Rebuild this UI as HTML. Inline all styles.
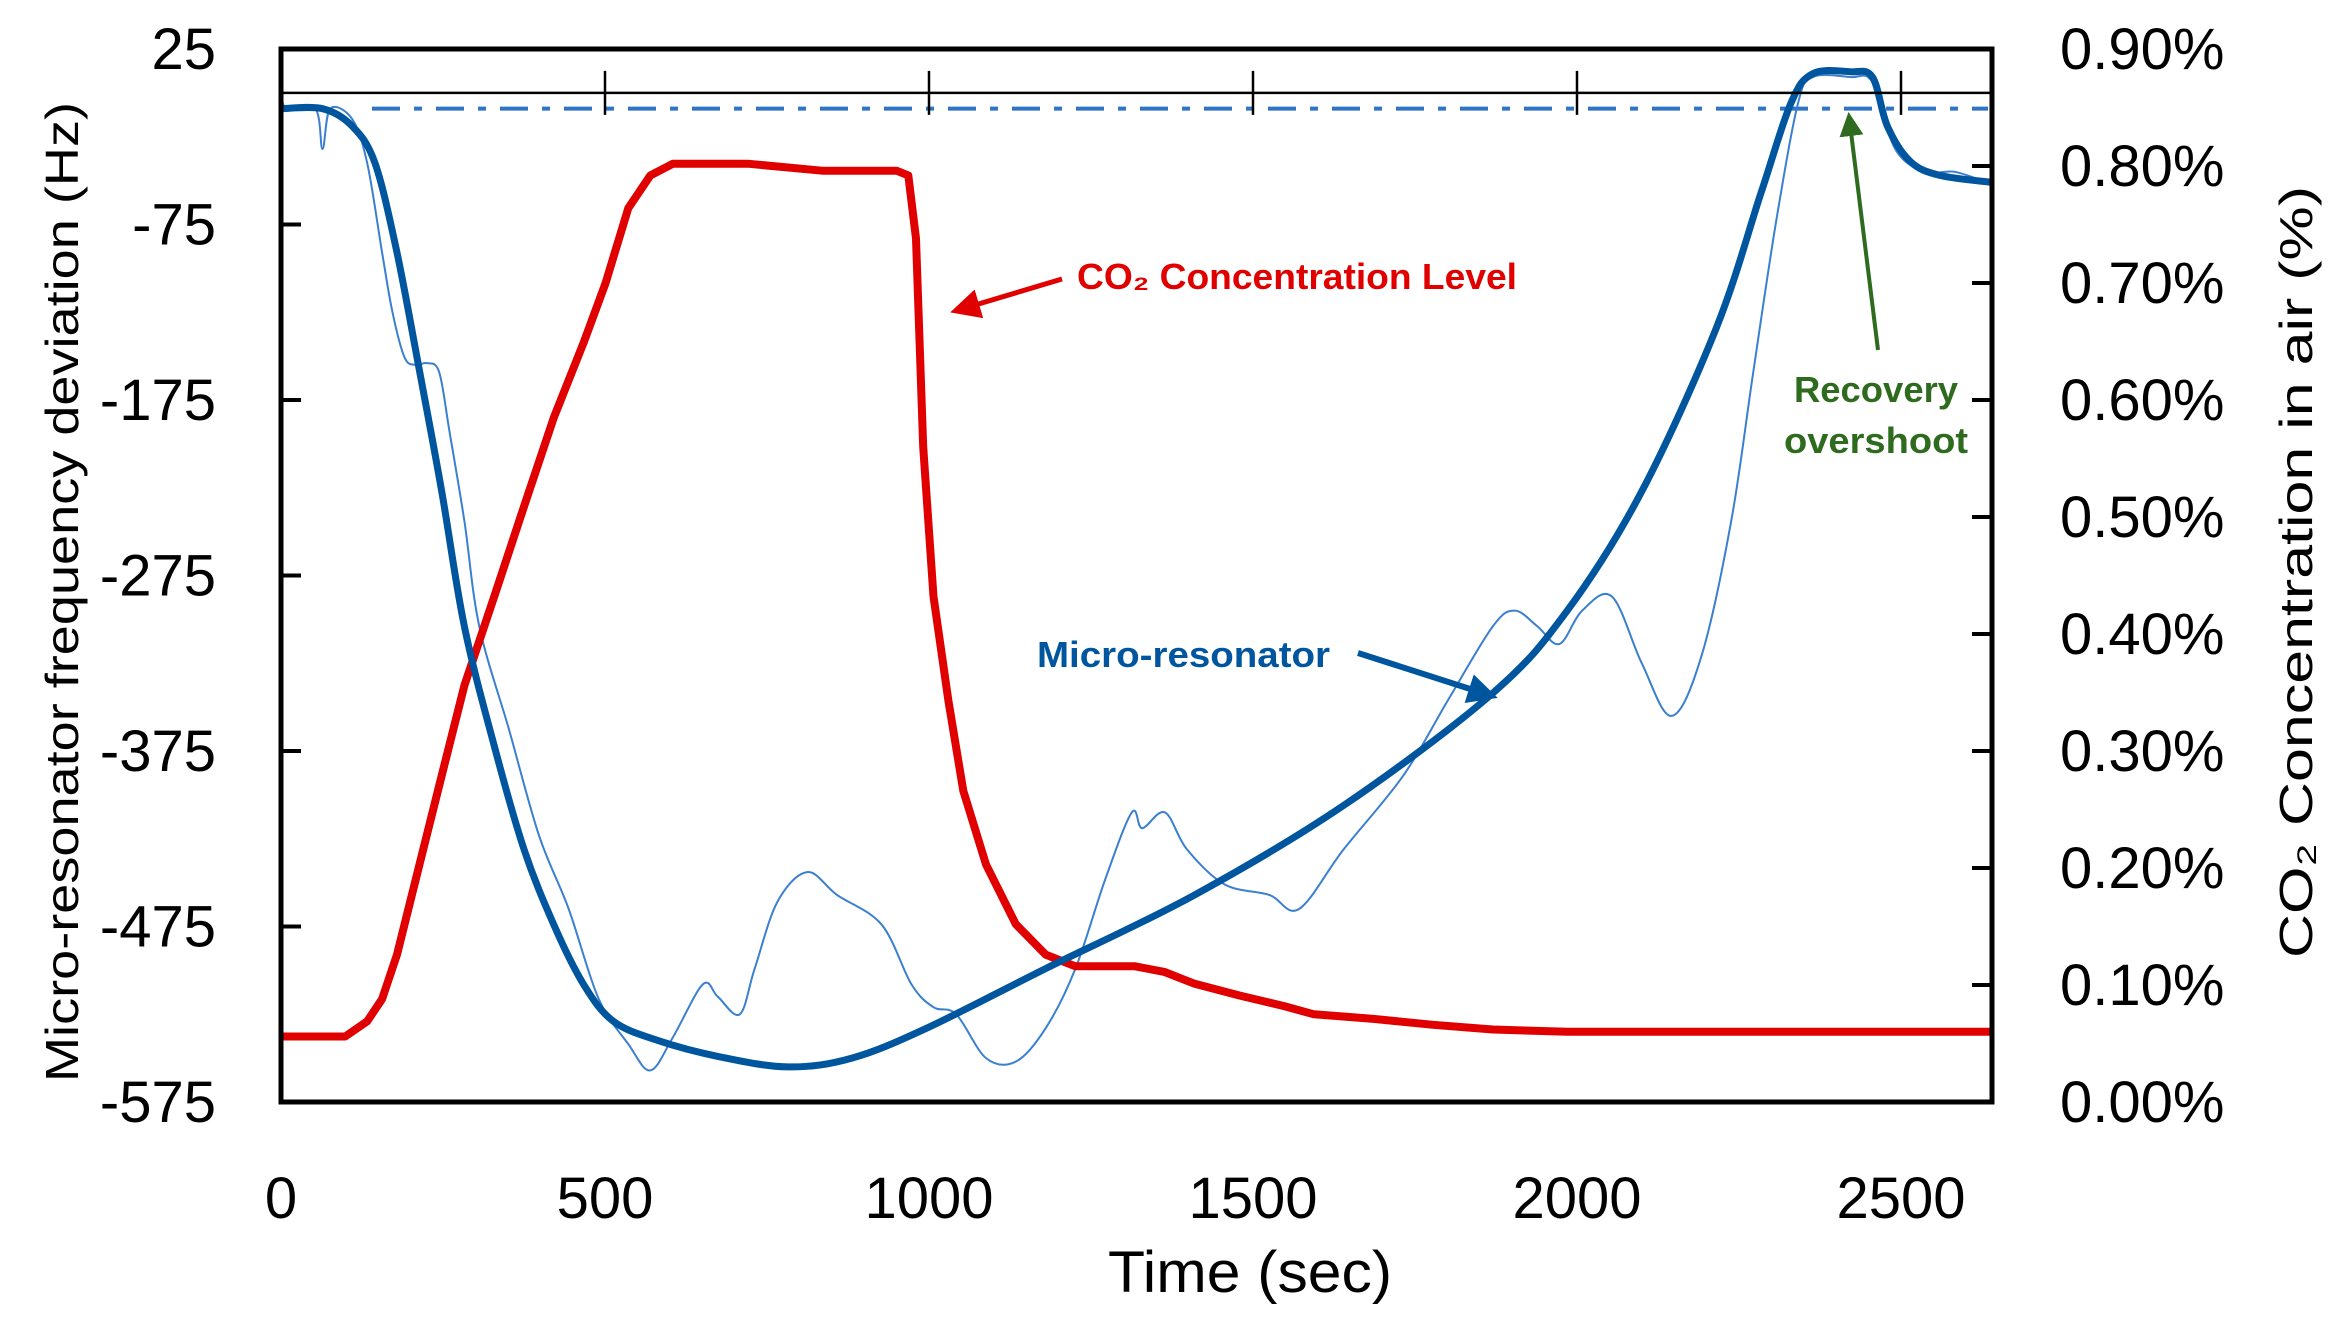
<!DOCTYPE html>
<html><head><meta charset="utf-8"><style>
html,body{margin:0;padding:0;background:#fff;}
svg{display:block;font-family:"Liberation Sans",sans-serif;}
</style></head><body>
<svg id="chart" width="2338" height="1322" viewBox="0 0 2338 1322" xmlns="http://www.w3.org/2000/svg">
<defs>
<clipPath id="clip"><rect x="281" y="49" width="1711" height="1053"/></clipPath>
<marker id="arR" markerWidth="6" markerHeight="6" refX="5" refY="3" orient="auto" markerUnits="strokeWidth"><path d="M0,0 L6,3 L0,6 z" fill="#e00000"/></marker>
<marker id="arB" markerWidth="5" markerHeight="5" refX="4" refY="2.5" orient="auto" markerUnits="strokeWidth"><path d="M0,0 L5,2.5 L0,5 z" fill="#00569e"/></marker>
<marker id="arG" markerWidth="6" markerHeight="6" refX="5" refY="3" orient="auto" markerUnits="strokeWidth"><path d="M0,0 L6,3 L0,6 z" fill="#2e6b1f"/></marker>
</defs>
<g id="plot" clip-path="url(#clip)"></g>
<g id="axes"></g>
<text x="0" y="0" transform="translate(78,592) rotate(-90)" text-anchor="middle" font-size="46" textLength="980" lengthAdjust="spacingAndGlyphs">Micro-resonator frequency deviation (Hz)</text>
<text x="0" y="0" transform="translate(2312,572) rotate(-90)" text-anchor="middle" font-size="46" textLength="772" lengthAdjust="spacingAndGlyphs">CO₂ Concentration in air (%)</text>
<text x="1250" y="1292" text-anchor="middle" font-size="58" textLength="284" lengthAdjust="spacingAndGlyphs">Time (sec)</text>
<text x="1077" y="289" font-size="36" font-weight="bold" fill="#e00000" textLength="440" lengthAdjust="spacingAndGlyphs">CO₂ Concentration Level</text>
<line x1="1062" y1="279" x2="955" y2="311" stroke="#e00000" stroke-width="5" marker-end="url(#arR)"/>
<text x="1037" y="667" font-size="36" font-weight="bold" fill="#00569e" textLength="293" lengthAdjust="spacingAndGlyphs">Micro-resonator</text>
<line x1="1358" y1="653" x2="1492" y2="696" stroke="#00569e" stroke-width="6" marker-end="url(#arB)"/>
<text x="1876" y="402" text-anchor="middle" font-size="36" font-weight="bold" fill="#2e6b1f" textLength="164" lengthAdjust="spacingAndGlyphs">Recovery</text>
<text x="1876" y="453" text-anchor="middle" font-size="36" font-weight="bold" fill="#2e6b1f" textLength="184" lengthAdjust="spacingAndGlyphs">overshoot</text>
<line x1="1878" y1="350" x2="1849" y2="116" stroke="#2e6b1f" stroke-width="4" marker-end="url(#arG)"/>
</svg>
<script>
const smoothT=[0,64,110,145,179,214,248,283,329,375,421,467,513,582,674,782,881,996,1180,1410,1640,1870,1985,2100,2215,2284,2330,2364,2422,2456,2479,2514,2560,2640];
const smoothHz=[-9,-9,-19,-40,-91,-159,-227,-304,-372,-431,-474,-508,-529,-540,-549,-555,-550,-533,-499,-457,-406,-342,-295,-227,-134,-57,-6,11,12,9,-19,-39,-47,-51];
const rawT=[0,7,53,64,76,110,133,156,172,191,209,225,244,260,283,306,352,398,444,490,536,570,605,651,674,708,731,766,812,858,927,973,1007,1042,1088,1134,1180,1226,1272,1313,1329,1364,1398,1456,1525,1571,1640,1732,1801,1870,1904,1939,1973,2008,2054,2100,2146,2192,2238,2272,2307,2341,2364,2422,2456,2491,2537,2583,2640];
const rawHz=[11,-9,-9,-32,-9,-15,-40,-91,-125,-151,-155,-154,-159,-193,-244,-304,-363,-423,-465,-516,-542,-557,-538,-508,-515,-525,-499,-461,-444,-457,-474,-508,-521,-525,-550,-552,-533,-499,-448,-410,-419,-410,-431,-451,-457,-465,-431,-389,-346,-304,-295,-304,-314,-295,-287,-325,-355,-321,-244,-159,-74,-6,9,9,6,-32,-45,-45,-52];
const co2T=[0,99,133,156,179,202,225,248,283,329,375,421,467,501,536,570,605,720,835,950,968,980,991,1007,1030,1053,1088,1134,1180,1226,1318,1364,1410,1479,1548,1594,1686,1778,1870,1985,2660];
const co2Pct=[0.056,0.056,0.069,0.088,0.126,0.177,0.228,0.279,0.356,0.432,0.509,0.585,0.649,0.700,0.764,0.792,0.802,0.802,0.796,0.796,0.792,0.738,0.560,0.432,0.343,0.266,0.203,0.152,0.126,0.116,0.116,0.111,0.101,0.091,0.082,0.075,0.071,0.066,0.062,0.060,0.060];
const xTicks=[0,500,1000,1500,2000,2500];
const yTicks=[25,-75,-175,-275,-375,-475,-575];
const y2Ticks=[0,0.1,0.2,0.3,0.4,0.5,0.6,0.7,0.8,0.9];
const refLineHz=-9;

const L=281,R=1992,T=49,B=1102;
const X=t=>L+t*(1911-10-281)/2500;
const Y=h=>T+(25-h)*(B-T)/600;
const Y2=p=>B-p*(B-T)/0.9;
const NS='http://www.w3.org/2000/svg';
const plot=document.getElementById('plot'),axes=document.getElementById('axes');
function mk(tag,parent,attrs){const e=document.createElementNS(NS,tag);for(const k in attrs)e.setAttribute(k,attrs[k]);parent.appendChild(e);return e;}
function pts(xs,ys,fy){return xs.map((t,i)=>X(t).toFixed(1)+','+fy(ys[i]).toFixed(1)).join(' ');}
function spline(xs,ys,fy){
 const p=xs.map((t,i)=>[X(t),fy(ys[i])]);
 let d='M'+p[0][0].toFixed(1)+','+p[0][1].toFixed(1);
 for(let i=0;i<p.length-1;i++){
  const p0=p[Math.max(0,i-1)],p1=p[i],p2=p[i+1],p3=p[Math.min(p.length-1,i+2)];
  const c1=[p1[0]+(p2[0]-p0[0])/6,p1[1]+(p2[1]-p0[1])/6];
  const c2=[p2[0]-(p3[0]-p1[0])/6,p2[1]-(p3[1]-p1[1])/6];
  d+=' C'+c1[0].toFixed(1)+','+c1[1].toFixed(1)+' '+c2[0].toFixed(1)+','+c2[1].toFixed(1)+' '+p2[0].toFixed(1)+','+p2[1].toFixed(1);
 }
 return d;
}

let zl=mk('line',axes,{x1:L,x2:R,y1:Y(0),y2:Y(0),stroke:'#000','stroke-width':2.5});


xTicks.forEach(t=>{if(t===0)return;
 const tk=mk('line',axes,{x1:X(t),x2:X(t),y1:Y(0)-22,y2:Y(0)+22,stroke:'#000','stroke-width':2.5});
 
 
});
xTicks.forEach(t=>{
 const tx=mk('text',axes,{x:X(t),y:1218,'text-anchor':'middle','font-size':58});
 tx.textContent=t;
 
 
});
let rl=mk('line',plot,{x1:372,x2:R-4,y1:Y(refLineHz),y2:Y(refLineHz),stroke:'#2e75c8','stroke-width':4,'stroke-dasharray':'28,14,8,14'});



yTicks.forEach(h=>{
 const tk=mk('line',axes,{x1:L,x2:L+20,y1:Y(h),y2:Y(h),stroke:'#000','stroke-width':4});
 
 
 const tx=mk('text',axes,{x:216,y:Y(h)+20,'text-anchor':'end','font-size':58});
 tx.textContent=h;
 
 
});
y2Ticks.forEach(p=>{
 const tk=mk('line',axes,{x1:R-20,x2:R,y1:Y2(p),y2:Y2(p),stroke:'#000','stroke-width':4});
 
 
 const tx=mk('text',axes,{x:2060,y:Y2(p)+20,'font-size':58});
 tx.textContent=p.toFixed(2)+'%';
 
 
});

let raw=mk('path',plot,{d:spline(rawT,rawHz,Y),fill:'none',stroke:'#3a7fd0','stroke-width':2,'stroke-linejoin':'round'});


let co2=mk('polyline',plot,{points:pts(co2T,co2Pct,Y2),fill:'none',stroke:'#e00000','stroke-width':8,'stroke-linejoin':'round'});


let sm=mk('path',plot,{d:spline(smoothT,smoothHz,Y),fill:'none',stroke:'#00569e','stroke-width':7,'stroke-linejoin':'round','stroke-linecap':'round'});



let fr=mk('rect',axes,{x:L,y:T,width:R-L,height:B-T,fill:'none',stroke:'#000','stroke-width':5});


</script>
</body></html>
